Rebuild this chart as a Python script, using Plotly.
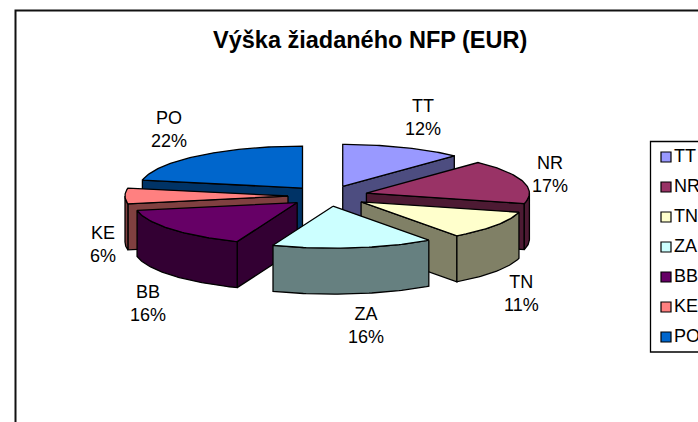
import math
import plotly.graph_objects as go

regions = ["TT", "NR", "TN", "ZA", "BB", "KE", "PO"]
shares = [12, 17, 11, 16, 16, 6, 22]
top_colors = ["#9999FF", "#993366", "#FFFFCC", "#CCFFFF", "#660066", "#FF8080", "#0066CC"]
side_colors = ["#4D4D80", "#4D1A33", "#808066", "#668080", "#330033", "#804040", "#003366"]
title = "Výška žiadaného NFP (EUR)"

CX, CY, RX, RY, DEPTH, EXPLODE = 328, 196, 163, 42, 46, 40
FONT = "Liberation Sans, Arial, sans-serif"
draw_order = ["PO", "TT", "NR", "KE", "BB", "TN", "ZA"]
label_pos = {"TT": (423, 117), "NR": (550, 174), "TN": (521, 293), "ZA": (366, 325),
             "BB": (148, 303), "KE": (103, 244), "PO": (169, 129)}

total = sum(shares)
fig = go.Figure()
start = 0.0
wedges = {}
for r, s, ct, cs in zip(regions, shares, top_colors, side_colors):
    end = start + 360.0 * s / total
    wedges[r] = (start, end, ct, cs, s)
    start = end


def rim(ax, ay, deg, dz=0):
    a = math.radians(deg)
    return ax + RX * math.sin(a), ay - RY * math.cos(a) + dz


def poly(xs, ys, color, name):
    fig.add_trace(go.Scatter(x=xs + xs[:1], y=ys + ys[:1], mode="lines", fill="toself",
                             fillcolor=color, line=dict(color="black", width=1.3),
                             showlegend=False, name=name, hoverinfo="name"))


for r in draw_order:
    a0, a1, ct, cs, s = wedges[r]
    mid = math.radians((a0 + a1) / 2)
    ax = CX + EXPLODE * math.sin(mid)
    ay = CY - EXPLODE * math.cos(mid) * RY / RX
    for edge, visible in ((a0, math.sin(math.radians(a0)) < -1e-9),
                          (a1, math.sin(math.radians(a1)) > 1e-9)):
        if visible:
            ex, ey = rim(ax, ay, edge)
            poly([ax, ex, ex, ax], [ay, ey, ey + DEPTH, ay + DEPTH], cs, r)
    w0, w1 = max(a0, 90), min(a1, 270)
    if w1 > w0:
        n = max(2, int(w1 - w0) + 1)
        degs = [w0 + (w1 - w0) * i / (n - 1) for i in range(n)]
        pts = [rim(ax, ay, d) for d in degs]
        low = [rim(ax, ay, d, DEPTH) for d in reversed(degs)]
        poly([p[0] for p in pts + low], [p[1] for p in pts + low], cs, r)
    n = max(2, int(a1 - a0) + 1)
    pts = [(ax, ay)] + [rim(ax, ay, a0 + (a1 - a0) * i / (n - 1)) for i in range(n)]
    poly([p[0] for p in pts], [p[1] for p in pts], ct, r)

# Slice labels
for r, s in zip(regions, shares):
    x, y = label_pos[r]
    fig.add_annotation(x=x, y=y, text=f"{r}<br>{s}%", showarrow=False, align="center",
                       font=dict(family=FONT, size=18, color="black"))

# Legend key
LEG_Y0, LEG_STEP = 157, 30
leg_y = [LEG_Y0 + LEG_STEP * i for i in range(len(regions))]
fig.add_trace(go.Scatter(
    x=[666] * len(regions), y=leg_y, mode="markers",
    marker=dict(symbol="square", size=10, color=top_colors, line=dict(color="black", width=1.2)),
    showlegend=False, hoverinfo="skip"))
fig.add_trace(go.Scatter(
    x=[674] * len(regions), y=leg_y, mode="text", text=regions, textposition="middle right",
    textfont=dict(family=FONT, size=18, color="black"), showlegend=False, hoverinfo="text"))

fig.add_shape(type="rect", x0=15.5, y0=10.5, x1=760, y1=470, line=dict(color="#111111", width=2), layer="below")
fig.add_shape(type="rect", x0=650.5, y0=141.5, x1=760, y1=352, line=dict(color="black", width=1.3), layer="below")

fig.add_annotation(x=370, y=40, text=f"<b>{title}</b>", showarrow=False,
                   font=dict(family=FONT, size=23.5, color="black"))

fig.update_layout(width=698, height=422, margin=dict(l=0, r=0, t=0, b=0),
                  paper_bgcolor="white", plot_bgcolor="white", showlegend=False,
                  xaxis=dict(range=[0, 698], visible=False, fixedrange=True),
                  yaxis=dict(range=[422, 0], visible=False, fixedrange=True))

fig.write_html("out.html", config={"displayModeBar": False},
               post_script="document.body.style.margin='0';document.body.style.overflow='hidden';")
